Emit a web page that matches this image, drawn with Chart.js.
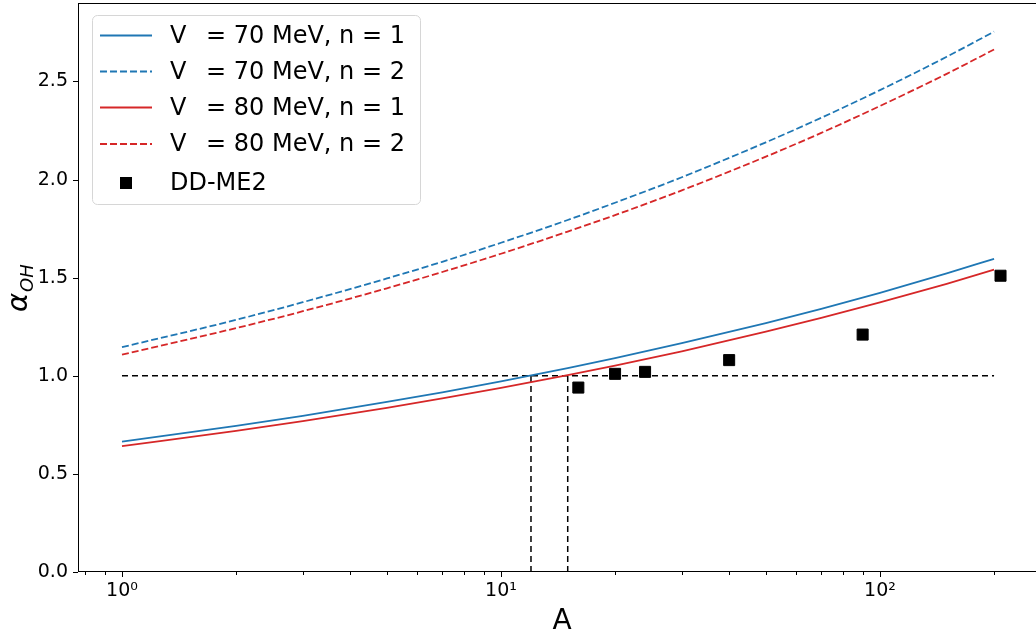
<!DOCTYPE html>
<html>
<head>
<meta charset="utf-8">
<script src="https://cdn.jsdelivr.net/npm/chart.js@4"></script>
<style>
html, body { margin: 0; padding: 0; background: #fff; overflow: hidden; }
#wrap { width: 1041px; height: 637px; }
</style>
</head>
<body>
<div id="wrap"><canvas id="grafiek" width="1041" height="637"></canvas></div>
<script>
"use strict";

// waarden
const massA = [1, 2, 3, 5, 7, 10, 15, 20, 30, 50, 70, 100, 150, 200];
const v70n1 = [0.664, 0.745, 0.796, 0.867, 0.916, 0.972, 1.039, 1.090, 1.166, 1.269, 1.341, 1.423, 1.522, 1.596];
const v70n2 = [1.146, 1.285, 1.375, 1.496, 1.581, 1.678, 1.794, 1.882, 2.012, 2.190, 2.315, 2.456, 2.626, 2.754];
const v80n1 = [0.641, 0.719, 0.769, 0.837, 0.885, 0.938, 1.003, 1.052, 1.125, 1.225, 1.295, 1.374, 1.469, 1.541];
const v80n2 = [1.108, 1.243, 1.329, 1.446, 1.529, 1.622, 1.735, 1.819, 1.945, 2.117, 2.238, 2.375, 2.539, 2.663];

const ddmeA = [16, 20, 24, 40, 90, 208];
const ddmeAlpha = [0.94, 1.01, 1.02, 1.08, 1.21, 1.51];

const unityLevel = 1.0;
const unityRange = [1, 200];
const crossingA = [12.0, 15.0];

const xMajorTicks = [1, 10, 100];
const xTickLabels = ['10\u2070', '10\u00B9', '10\u00B2'];
const xMinorTicks = [0.8, 0.9, 2, 3, 4, 5, 6, 7, 8, 9, 20, 30, 40, 50, 60, 70, 80, 90, 200];
const yTicks = [0, 0.5, 1.0, 1.5, 2.0, 2.5];

const legendLabels = ['V \u2002= 70 MeV, n = 1', 'V \u2002= 70 MeV, n = 2', 'V \u2002= 80 MeV, n = 1', 'V \u2002= 80 MeV, n = 2', 'DD-ME2'];

const blauw = '#1f77b4';
const rood = '#d62728';
const font = "'DejaVu Sans', sans-serif";

Chart.defaults.font.family = font;

function toPoints(xs, ys) {
    return xs.map((x, i) => ({x: x, y: ys[i]}));
}

function curve(data, kleur, dash, label) {
    return {
        type: 'line',
        label: label,
        inLegend: true,
        data: toPoints(massA, data),
        borderColor: kleur,
        backgroundColor: kleur,
        borderWidth: 1.8,
        borderDash: dash,
        pointRadius: 0,
        cubicInterpolationMode: 'monotone',
        fill: false,
        order: 2
    };
}

function refLine(points) {
    return {
        type: 'line',
        data: points,
        borderColor: '#000',
        borderWidth: 1.5,
        borderDash: [6, 4],
        pointRadius: 0,
        fill: false,
        order: 3
    };
}

const datasets = [
    {
        type: 'scatter',
        label: legendLabels[4],
        inLegend: true,
        data: toPoints(ddmeA, ddmeAlpha),
        pointStyle: 'rect',
        pointRadius: 7.8,
        borderWidth: 1,
        borderColor: '#000',
        backgroundColor: '#000',
        order: 0
    },
    curve(v70n1, blauw, [], legendLabels[0]),
    curve(v70n2, blauw, [7, 3], legendLabels[1]),
    curve(v80n1, rood, [], legendLabels[2]),
    curve(v80n2, rood, [7, 3], legendLabels[3]),
    refLine(unityRange.map(a => ({x: a, y: unityLevel}))),
    refLine([{x: crossingA[0], y: 0}, {x: crossingA[0], y: unityLevel}]),
    refLine([{x: crossingA[1], y: 0}, {x: crossingA[1], y: unityLevel}])
];

// kader, tickstreepjes, aslabels en legenda
const extras = {
    id: 'extras',
    afterDraw(chart) {
        const {ctx, chartArea: a, scales} = chart;
        const sx = scales.x, sy = scales.y;
        ctx.save();
        ctx.strokeStyle = '#000';
        ctx.lineWidth = 1;
        ctx.setLineDash([]);
        ctx.strokeRect(Math.round(a.left) + 0.5, Math.round(a.top) + 0.5,
            Math.round(a.right - a.left) - 1, Math.round(a.bottom - a.top) - 1);

        ctx.beginPath();
        sx.ticks.forEach(t => {
            const px = Math.round(sx.getPixelForValue(t.value)) + 0.5;
            const len = xMajorTicks.includes(t.value) ? 5 : 3;
            ctx.moveTo(px, a.bottom);
            ctx.lineTo(px, a.bottom + len);
        });
        sy.ticks.forEach(t => {
            const py = Math.round(sy.getPixelForValue(t.value)) + 0.5;
            ctx.moveTo(a.left - 5, py);
            ctx.lineTo(a.left, py);
        });
        ctx.stroke();

        // x-as titel
        ctx.fillStyle = '#000';
        ctx.font = "28px " + font;
        ctx.textAlign = 'center';
        ctx.textBaseline = 'alphabetic';
        ctx.fillText('A', 562, 629);

        // y-as titel alpha_OH
        ctx.save();
        ctx.translate(27, 312);
        ctx.rotate(-Math.PI / 2);
        ctx.textAlign = 'left';
        ctx.font = "italic 29px " + font;
        ctx.fillText('\u03B1', 0, 0);
        const w = ctx.measureText('\u03B1').width;
        ctx.font = "italic 18px " + font;
        ctx.fillText('OH', w + 1, 6);
        ctx.restore();

        // legenda
        const box = {x: 92, y: 15.5, w: 328, h: 189};
        ctx.beginPath();
        ctx.roundRect(box.x + 0.5, box.y, box.w, box.h, 5);
        ctx.fillStyle = 'rgba(255,255,255,0.8)';
        ctx.fill();
        ctx.strokeStyle = '#d6d6d6';
        ctx.lineWidth = 1;
        ctx.stroke();

        const rijen = [35.5, 71.5, 107.5, 144, 183];
        const items = chart.data.datasets.filter(d => d.inLegend);
        const volgorde = [1, 2, 3, 4, 0];
        ctx.font = "24px " + font;
        ctx.textBaseline = 'middle';
        volgorde.forEach((idx, r) => {
            const d = items[idx];
            const y = rijen[r];
            if (d.type === 'scatter') {
                ctx.fillStyle = '#000';
                ctx.fillRect(120, y - 6, 12, 12);
            } else {
                ctx.beginPath();
                ctx.strokeStyle = d.borderColor;
                ctx.lineWidth = d.borderWidth;
                ctx.setLineDash(d.borderDash);
                ctx.moveTo(100, y);
                ctx.lineTo(152, y);
                ctx.stroke();
                ctx.setLineDash([]);
            }
            ctx.fillStyle = '#000';
            ctx.textAlign = 'left';
            ctx.fillText(d.label, 170, y + 1);
        });
        ctx.restore();
    }
};

const chart = new Chart(document.getElementById('grafiek'), {
    data: {datasets: datasets},
    options: {
        responsive: false,
        animation: false,
        devicePixelRatio: 1,
        layout: {autoPadding: false, padding: {top: 3, left: 0, right: 0, bottom: 0}},
        plugins: {legend: {display: false}, tooltip: {enabled: false}},
        scales: {
            x: {
                type: 'logarithmic',
                min: 0.7655,
                max: 266,
                afterBuildTicks: s => {
                    s.ticks = xMajorTicks.concat(xMinorTicks).sort((p, q) => p - q).map(v => ({value: v}));
                },
                afterFit: s => {
                    s.height = 65;
                    s.paddingLeft = 0; s.paddingRight = 0;
                    s.paddingTop = 0; s.paddingBottom = 0;
                },
                grid: {display: false, drawTicks: true, tickLength: 5},
                border: {display: false},
                ticks: {
                    autoSkip: false,
                    maxRotation: 0,
                    padding: 3,
                    color: '#000',
                    font: {size: 19},
                    callback: v => {
                        const i = xMajorTicks.indexOf(v);
                        return i >= 0 ? xTickLabels[i] : '';
                    }
                }
            },
            y: {
                type: 'linear',
                min: 0,
                max: 2.9,
                afterBuildTicks: s => {
                    s.ticks = yTicks.map(v => ({value: v}));
                },
                afterFit: s => {
                    s.width = 78;
                    s.paddingLeft = 0; s.paddingRight = 0;
                    s.paddingTop = 0; s.paddingBottom = 0;
                },
                grid: {display: false, drawTicks: true, tickLength: 5},
                border: {display: false},
                ticks: {
                    padding: 5,
                    color: '#000',
                    font: {size: 19},
                    callback: v => v.toFixed(1)
                }
            }
        }
    },
    plugins: [extras]
});
</script>
</body>
</html>
